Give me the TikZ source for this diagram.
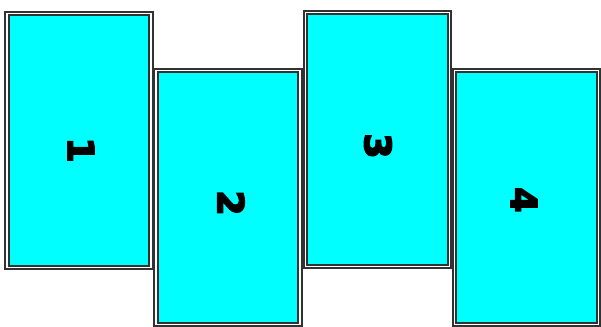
\documentclass[tikz,border=0pt]{standalone}
\usepackage{fontspec}
\newfontfamily\panelfont{DejaVu Sans}
\definecolor{panelcyan}{RGB}{0,255,255}
\definecolor{panelrim}{RGB}{50,50,50}
% Heavier digits: fill and stroke the glyph outlines.
\newcommand\heavy[1]{\special{pdf:code 2 Tr 1.3 w}#1\special{pdf:code 0 Tr}}

\begin{document}
\begin{tikzpicture}[
    x=0.75pt,
    y=-0.75pt,
    panel/.style={
      rectangle,
      draw=panelrim,
      double=white,
      double distance=1.2pt,
      line width=1.4pt,
      fill=panelcyan,
      inner sep=0pt,
      minimum width=108pt,
      minimum height=190.5pt
    },
    panel number/.style={
      font=\panelfont\bfseries\fontsize{27}{27}\selectfont,
      rotate=-90,
      inner sep=0pt
    }
]
\useasboundingbox (0,0) rectangle (601,327);

% Four staggered panels, alternating high and low.
\foreach \i/\cx/\cy in {
  1/79/140.5,
  2/228/197.5,
  3/377.5/139.5,
  4/526.5/197.5
}{
  \node[panel] (p\i) at (\cx,\cy) {};
}

% Rotated panel numbers.
\node[panel number] (n1) at (81,150) {\heavy{1}};
\node[panel number] (n2) at (231,203) {\heavy{2}};
\node[panel number] (n3) at (378,146) {\heavy{3}};
\node[panel number] (n4) at (524,200) {\heavy{4}};

\end{tikzpicture}
\end{document}
